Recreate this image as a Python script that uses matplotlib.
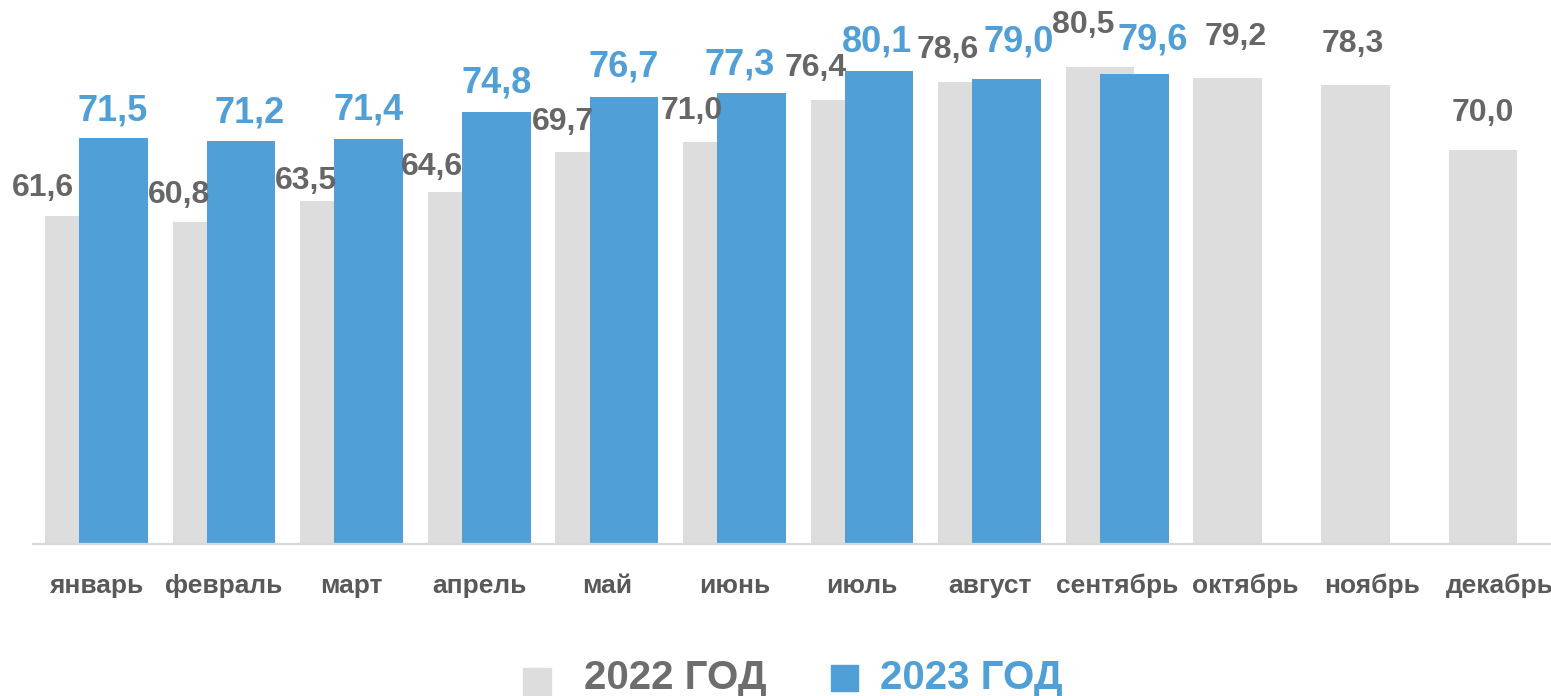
import matplotlib
matplotlib.use("Agg")
import matplotlib.pyplot as plt
from matplotlib.patches import Rectangle

plt.rcParams['font.family'] = ['Liberation Sans', 'DejaVu Sans']

months = ["январь", "февраль", "март", "апрель", "май", "июнь", "июль",
          "август", "сентябрь", "октябрь", "ноябрь", "декабрь"]
values_2022 = [61.6, 60.8, 63.5, 64.6, 69.7, 71.0, 76.4, 78.6, 80.5, 79.2, 78.3, 70.0]
values_2023 = [71.5, 71.2, 71.4, 74.8, 76.7, 77.3, 80.1, 79.0, 79.6]
series_names = ["2022 ГОД", "2023 ГОД"]

def fmt(v):
    return f"{v:.1f}".replace(".", ",")

# layout (label offsets in pixels: dx, gap above bar top)
gray_off = [(-36.5, 20), (-27.5, 19), (-28.7, 12), (-30, 17), (-26.5, 22), (-25.5, 22.7),
            (-29.5, 24), (-24.5, 24), (-16.6, 34), (8, 33), (-3, 33), (0, 28.6)]
blue_off = [(-1, 18), (9, 17.7), (0, 19.3), (0, 19.4), (0, 21), (-12, 17.7),
            (-2, 19.3), (11.5, 28), (18, 24.7)]

W, H = 1551, 696
fig = plt.figure(figsize=(W / 100, H / 100), dpi=100)
left_px, right_px = 32.6, 1563.8
base_px = 543.5
ax = fig.add_axes([left_px / W, (H - base_px) / H, (right_px - left_px) / W, base_px / H])

GRAY = "#DDDDDD"
BLUE = "#519FD7"
LBL_GRAY = "#666666"
TICK = "#595959"

bw = 0.537
off = 0.134
x = list(range(len(months)))
ax.bar([i - off for i in x], values_2022, width=bw, color=GRAY, zorder=2)
ax.bar([i + off for i in range(len(values_2023))], values_2023, width=bw, color=BLUE, zorder=3)

ax.set_xlim(-0.5, 11.5)
ax.set_ylim(20, 20 + base_px / 7.87)
for s in ["top", "left", "right"]:
    ax.spines[s].set_visible(False)
ax.spines["bottom"].set_color("#D9D9D9")
ax.spines["bottom"].set_linewidth(1.6)
ax.spines["bottom"].set_zorder(4)
ax.set_yticks([])
ax.set_xticks([])

for i, v in enumerate(values_2022):
    dx, gap = gray_off[i]
    ax.annotate(fmt(v), xy=(i - off, v), xytext=(dx, gap), textcoords="offset pixels",
                ha="center", va="baseline", fontsize=23, fontweight="bold",
                color=LBL_GRAY, zorder=5, annotation_clip=False)
for i, v in enumerate(values_2023):
    dx, gap = blue_off[i]
    ax.annotate(fmt(v), xy=(i + off, v), xytext=(dx, gap), textcoords="offset pixels",
                ha="center", va="baseline", fontsize=26, fontweight="bold",
                color=BLUE, zorder=5, annotation_clip=False)

for i, m in enumerate(months):
    ax.annotate(m, xy=(i, 0), xycoords=("data", "axes fraction"), xytext=(0, -49.5),
                textcoords="offset pixels", ha="center", va="baseline", fontsize=19,
                fontweight="bold", color=TICK, annotation_clip=False)

# legend
def fx(px):
    return px / W

def fy(py):
    return 1 - py / H

fig.patches.append(Rectangle((fx(523), fy(696)), 28 / W, 28 / H, transform=fig.transFigure,
                             color=GRAY, figure=fig))
fig.patches.append(Rectangle((fx(831), fy(691)), 27 / W, 26 / H, transform=fig.transFigure,
                             color=BLUE, figure=fig))
fig.text(fx(584), fy(689), series_names[0], ha="left", va="baseline", fontsize=29,
         fontweight="bold", color="#6D6D6D")
fig.text(fx(880), fy(689), series_names[1], ha="left", va="baseline", fontsize=29,
         fontweight="bold", color=BLUE)

fig.savefig("out.png", dpi=100, facecolor="white")
